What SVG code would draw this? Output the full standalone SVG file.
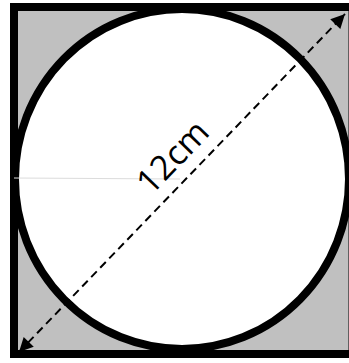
<svg xmlns="http://www.w3.org/2000/svg" width="349" height="363" viewBox="0 0 349 363">
  <style>
    .frame { fill: #c0c0c0; stroke: #000; stroke-width: 8; }
    .circle { fill: #fff; stroke: #000; stroke-width: 8; }
    .dim { stroke: #000; stroke-width: 2; stroke-dasharray: 8 5; fill: none; }
    .label { font-family: "Open Sans", "Liberation Sans", sans-serif; font-size: 34px; fill: #000; }
  </style>
  <defs>
    <marker id="arrow" viewBox="0 0 10 10" refX="10" refY="5" markerWidth="8" markerHeight="7" markerUnits="strokeWidth" orient="auto-start-reverse">
      <path d="M0,0 L10,5 L0,10 Z" fill="#000"/>
    </marker>
  </defs>
  <rect width="349" height="363" fill="#fff"/>
  <g id="square">
    <rect class="frame" x="14" y="7" width="338.5" height="347"/>
  </g>
  <g id="circle">
    <ellipse class="circle" cx="182" cy="179" rx="167" ry="170"/>
    <line x1="14" y1="178" x2="180" y2="179" stroke="#dcdcdc" stroke-width="1"/>
  </g>
  <g id="connectors">
    <line class="dim" x1="19" y1="352" x2="345" y2="14" marker-start="url(#arrow)" marker-end="url(#arrow)"/>
  </g>
  <g id="label">
    <text class="label" x="0" y="0" text-anchor="middle" transform="translate(181,165) rotate(-46)">12cm</text>
  </g>
</svg>
